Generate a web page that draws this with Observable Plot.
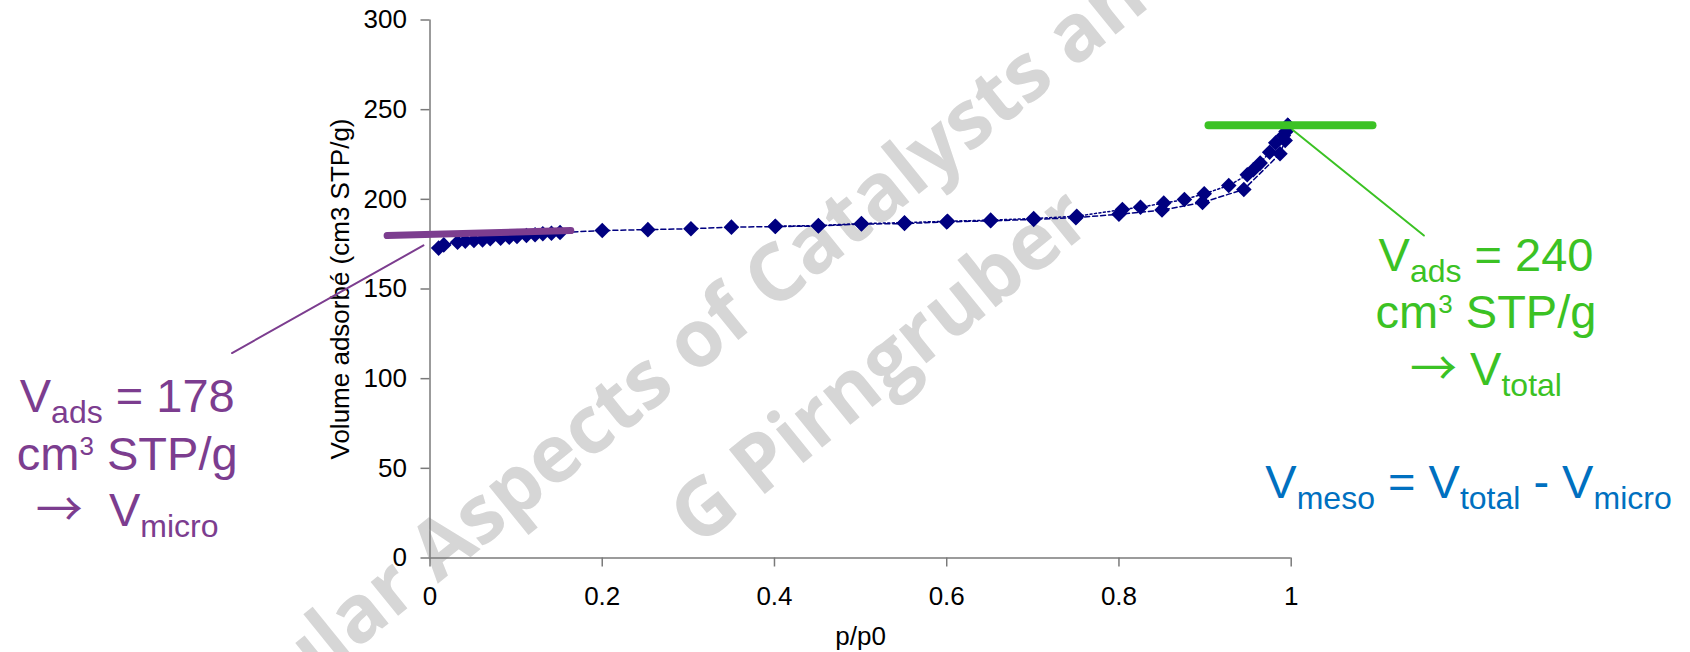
<!DOCTYPE html>
<html><head><meta charset="utf-8">
<script src="https://cdn.jsdelivr.net/npm/d3@7"></script>
<script src="https://cdn.jsdelivr.net/npm/@observablehq/plot@0.6"></script>
<style>
html,body{margin:0;padding:0;background:#fff;}
#chart svg text{white-space:pre;}
</style></head><body><div id="chart"></div>
<script>
// ---- data ----
const adsP = [0.010,0.016,0.032,0.041,0.051,0.061,0.070,0.082,0.092,0.101,0.112,0.122,0.131,0.141,0.151,0.200,0.253,0.303,0.350,0.401,0.451,0.501,0.551,0.600,0.651,0.701,0.750,0.800,0.850,0.897,0.945,0.987,0.993,0.996];
const adsV = [172.8,174.6,176.1,176.7,177.0,177.4,178.0,178.3,178.9,179.3,179.8,180.2,180.8,181.1,181.5,182.6,183.1,183.6,184.5,184.8,185.1,186.2,186.5,187.4,188.0,188.8,189.8,191.7,194.0,198.3,205.5,225.4,232.8,241.3];
const desP = [0.401,0.451,0.501,0.551,0.601,0.651,0.701,0.751,0.804,0.825,0.852,0.876,0.899,0.9275,0.949,0.956,0.964,0.975,0.982,0.991,0.994,0.996];
const desV = [185.0,185.4,186.5,187.0,187.8,188.4,189.3,190.6,194.3,195.6,197.9,199.9,203.1,207.7,213.7,216.5,220.2,226.3,231.5,235.6,237.8,241.3];
const xTicks = [0,0.2,0.4,0.6,0.8,1];
const yTicks = [0,50,100,150,200,250,300];
const xLabel = "p/p0";
const yLabel = "Volume adsorbé (cm3 STP/g)";
// annotation geometry (data units)
const microBarP = [-0.0498,0.1635];
const microBarV = [179.8,182.6];
const microPointerP = [-0.2299,-0.0076];
const microPointerV = [114.3,174.3];
const totalBarP = [0.904,1.0944];
const totalBarV = [241.3,241.3];
const totalPointerP = [1.0015,1.1541];
const totalPointerV = [238.8,179.8];
const microText = ["V_{ads} = 178","cm^{3} STP/g","→  V_{micro}"];
const microTextP = [-0.3516,-0.3516,-0.3516];
const microTextV = [81.3,48.8,18.1];
const totalText = ["V_{ads} = 240","cm^{3} STP/g","→ V_{total}"];
const totalTextP = [1.2262,1.2262,1.2262];
const totalTextV = [160.3,128.0,96.2];
const mesoText = ["V_{meso} = V_{total} - V_{micro}"];
const mesoTextP = [1.2059];
const mesoTextV = [33.2];
const watermarkText = ["Molecular Aspects of Catalysts and","G Pirngruber"];
const watermarkP = [-0.3703,0.3114];
const watermarkV = [-161.8,5.5];

// ---- build ----
const zip = (P,V) => P.map((p,i)=>({p, v:V[i]}));
const ads = zip(adsP, adsV), des = zip(desP, desV);
const labels = (T,P,V) => T.map((t,i)=>({t, p:P[i], v:V[i]}));
const navy = "#000080", purple = "#7C3D8F", green = "#3BC224", blue = "#0070C0", axisColor = "#7a7a7a";
const font = "'Liberation Sans', Arial, sans-serif";
const annoText = (T,P,V,fill) => Plot.text(labels(T,P,V), {x:"p", y:"v", text:"t", textAnchor:"middle", lineAnchor:"bottom", fontSize:47, fill, fontFamily: font});

const chart = Plot.plot({
  width: 1690, height: 652,
  marginLeft: 429.5, marginRight: 399.3, marginTop: 19.5, marginBottom: 94.5,
  x: {domain:[0,1]}, y: {domain:[0,300]},
  style: {fontFamily: font, background: "white"},
  marks: [
    Plot.text(labels(watermarkText, watermarkP, watermarkV), {x:"p", y:"v", text:"t", rotate:-39, textAnchor:"start", lineAnchor:"bottom", fontSize:80, fontWeight:"bold", fontFamily:"'Open Sans', sans-serif", fill:"#d6d6d6"}),
    Plot.axisX({ticks:xTicks, tickFormat:d=>String(d), tickSize:9, tickPadding:19.5, fontSize:26, label:null, stroke:axisColor, strokeWidth:1.5, fill:"black"}),
    Plot.axisY({ticks:yTicks, tickFormat:d=>String(d), tickSize:9, tickPadding:14, fontSize:26, label:null, stroke:axisColor, strokeWidth:1.5, fill:"black"}),
    Plot.ruleX([0], {stroke:axisColor, strokeWidth:1.5}),
    Plot.ruleY([0], {stroke:axisColor, strokeWidth:1.5}),
    Plot.text([xLabel], {text:d=>d, frameAnchor:"bottom", dy:86.5, lineAnchor:"bottom", textAnchor:"middle", fontSize:26, fill:"black"}),
    Plot.text([yLabel], {text:d=>d, frameAnchor:"left", rotate:-90, dx:-81.5, lineAnchor:"bottom", textAnchor:"middle", fontSize:26, fill:"black"}),
    Plot.line(ads, {x:"p", y:"v", stroke:navy, strokeWidth:1.5, strokeDasharray:"5,3"}),
    Plot.line(des, {x:"p", y:"v", stroke:navy, strokeWidth:1.5, strokeDasharray:"2,2.5"}),
    Plot.dot(ads, {x:"p", y:"v", symbol:"diamond2", r:7, fill:navy}),
    Plot.dot(des, {x:"p", y:"v", symbol:"diamond2", r:7, fill:navy}),
    Plot.line(zip(microBarP, microBarV), {x:"p", y:"v", stroke:purple, strokeWidth:7}),
    Plot.line(zip(microPointerP, microPointerV), {x:"p", y:"v", stroke:purple, strokeWidth:2}),
    Plot.line(zip(totalBarP, totalBarV), {x:"p", y:"v", stroke:green, strokeWidth:8}),
    Plot.line(zip(totalPointerP, totalPointerV), {x:"p", y:"v", stroke:green, strokeWidth:2}),
    annoText(microText, microTextP, microTextV, purple),
    annoText(totalText, totalTextP, totalTextV, green),
    annoText(mesoText, mesoTextP, mesoTextV, blue)
  ]
});

// turn _{..} / ^{..} markup into sub/superscript tspans; long thin arrow
d3.select(chart).selectAll("text").each(function(){
  const t = this.textContent;
  if (!/[_^]\{|→/.test(t)) return;
  const el = d3.select(this);
  el.text(null);
  const parts = t.split(/([_^]\{[^}]*\}|→)/).filter(s=>s.length);
  let shift = 0;
  for (const part of parts) {
    let m;
    if ((m = part.match(/^_\{(.*)\}$/))) {
      el.append("tspan").attr("font-size", 32).attr("dy", 11 - shift).text(m[1]); shift = 11;
    } else if ((m = part.match(/^\^\{(.*)\}$/))) {
      el.append("tspan").attr("font-size", 26).attr("dy", -15 - shift).text(m[1]); shift = -15;
    } else if (part === "→") {
      el.append("tspan").attr("font-family", "'Noto Sans CJK JP', 'DejaVu Sans', sans-serif").attr("dy", -shift).text(part); shift = 0;
    } else {
      el.append("tspan").attr("dy", -shift).text(part); shift = 0;
    }
  }
});
document.getElementById("chart").appendChild(chart);
</script></body></html>
